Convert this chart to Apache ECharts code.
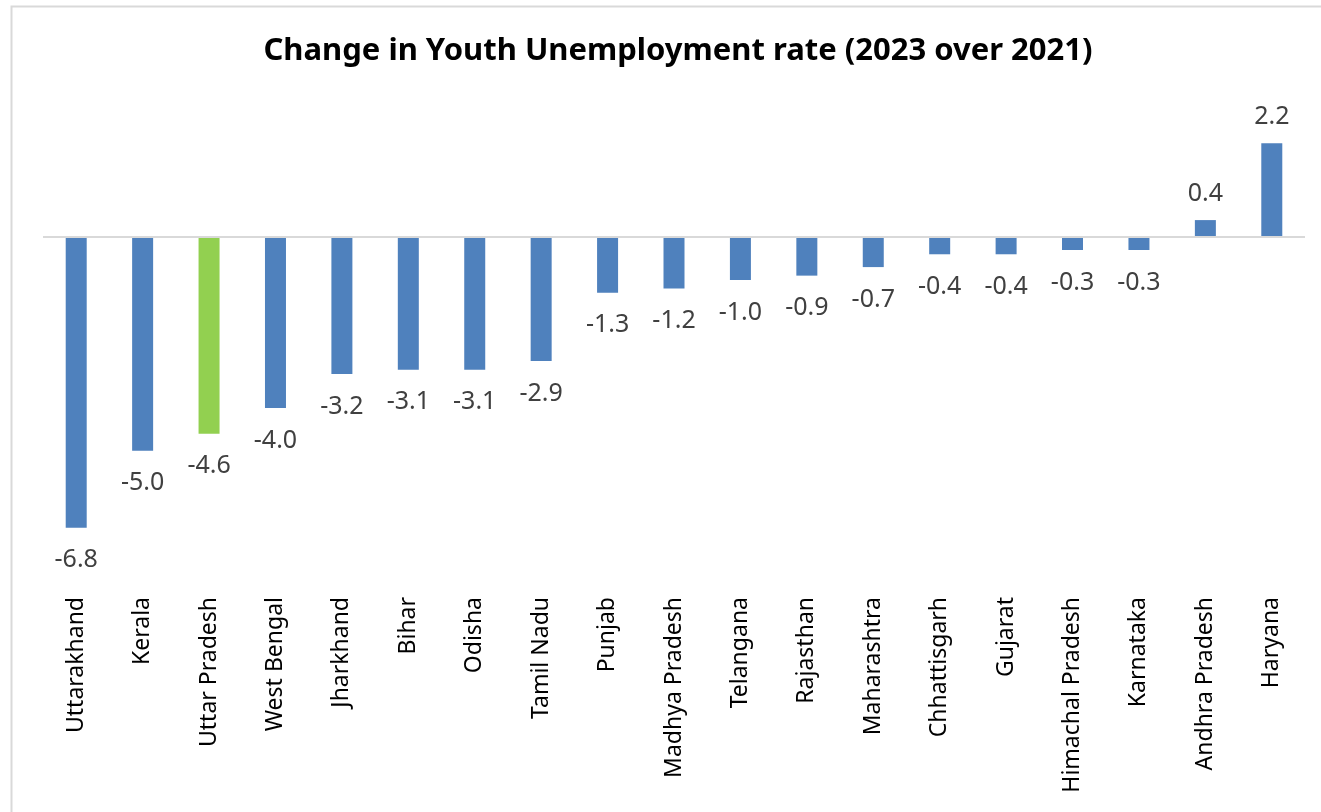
<!DOCTYPE html>
<html>
<head>
<meta charset="utf-8">
<script src="https://cdn.jsdelivr.net/npm/echarts@6/dist/echarts.min.js"></script>
<style>
  html, body { margin: 0; padding: 0; background: #fff; }
  #chart { width: 1321px; height: 812px; }
</style>
</head>
<body>
<div id="chart"></div>
<script>
// States ordered from the largest fall to the largest rise
const states = [
  'Uttarakhand', 'Kerala', 'Uttar Pradesh', 'West Bengal', 'Jharkhand', 'Bihar',
  'Odisha', 'Tamil Nadu', 'Punjab', 'Madhya Pradesh', 'Telangana', 'Rajasthan',
  'Maharashtra', 'Chhattisgarh', 'Gujarat', 'Himachal Pradesh', 'Karnataka',
  'Andhra Pradesh', 'Haryana'
];
// Change in youth unemployment rate, percentage points (2023 vs 2021)
const change = [
  -6.8, -5.0, -4.6, -4.0, -3.2, -3.1,
  -3.1, -2.9, -1.3, -1.2, -1.0, -0.9,
  -0.7, -0.4, -0.4, -0.3, -0.3,
  0.4, 2.2
];
const highlighted = 'Uttar Pradesh';

const BLUE = '#4f81bd';
const GREEN = '#92d050';

const chart = echarts.init(document.getElementById('chart'));
chart.setOption({
  animation: false,
  backgroundColor: '#fff',
  graphic: [{
    type: 'rect',
    left: 9, top: 4,
    shape: { width: 1340, height: 830 },
    style: { fill: 'none', stroke: '#d9d9d9', lineWidth: 2 },
    silent: true
  }],
  title: {
    text: 'Change in Youth Unemployment rate (2023 over 2021)',
    left: 673, top: 31, textAlign: 'center',
    textStyle: { fontFamily: 'Noto Sans', fontWeight: 'bold', fontSize: 31, color: '#000' }
  },
  grid: { left: 43, right: 16, top: 109, bottom: 233, containLabel: false },
  xAxis: {
    type: 'category',
    data: states,
    position: 'bottom',
    axisLine: { show: false, onZero: false },
    axisTick: { show: false },
    axisLabel: {
      rotate: 90, margin: 18, interval: 0,
      fontFamily: 'Noto Sans', fontSize: 23, color: '#000'
    }
  },
  yAxis: {
    type: 'value', min: -8, max: 3, show: false,
    splitLine: { show: false }
  },
  series: [{
    type: 'bar',
    barWidth: 21,
    data: change.map((v, i) => ({
      value: v,
      itemStyle: { color: states[i] === highlighted ? GREEN : BLUE },
      label: { distance: v < 0 ? 20 : 14 }
    })),
    label: {
      show: true, position: 'outside',
      fontFamily: 'Noto Sans', fontSize: 25, color: '#404040',
      formatter: p => p.value.toFixed(1)
    },
    markLine: {
      silent: true, symbol: 'none', label: { show: false },
      lineStyle: { color: '#d9d9d9', width: 2, type: 'solid' },
      data: [{ yAxis: 0 }]
    }
  }]
});
</script>
</body>
</html>
